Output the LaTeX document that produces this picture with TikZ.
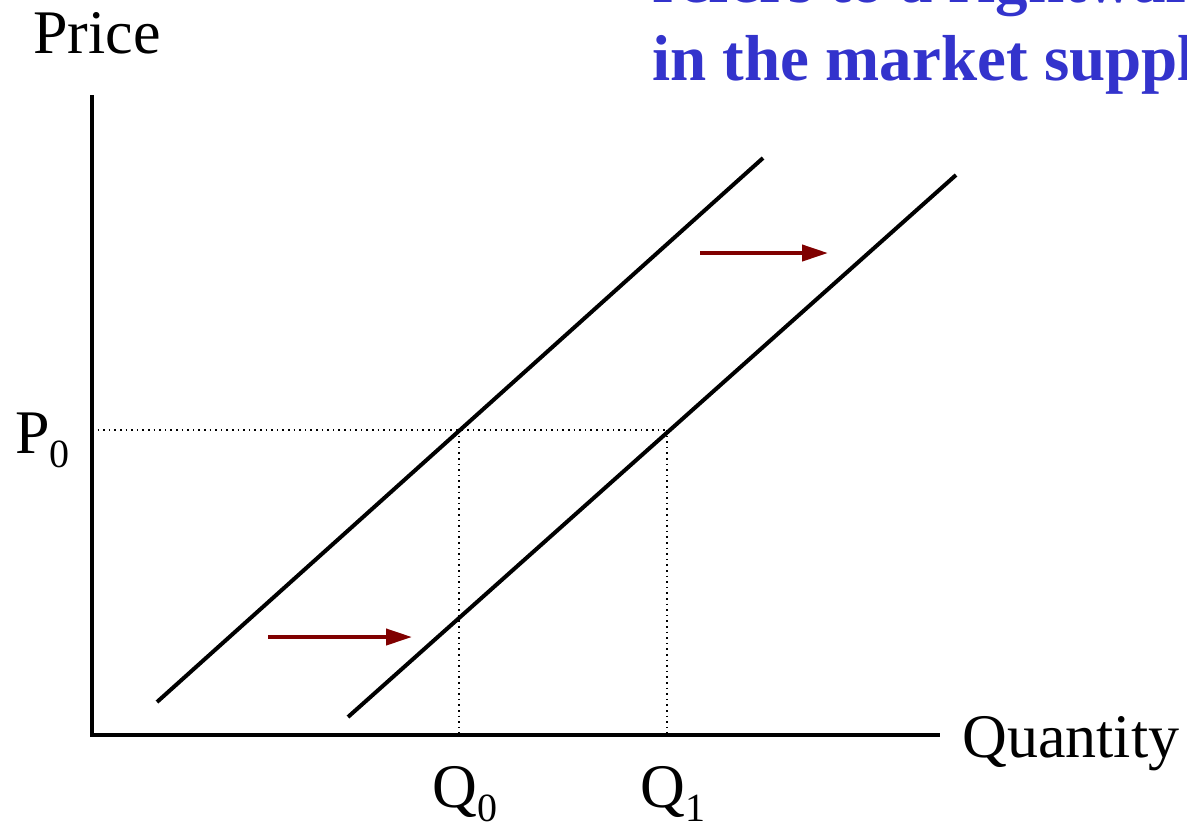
\documentclass[tikz,border=0pt]{standalone}
\usepackage{fontspec}
\setmainfont{Liberation Serif}
\usepackage{xcolor}
\usetikzlibrary{arrows.meta, positioning}

\definecolor{titleblue}{RGB}{51,51,204}
\definecolor{shiftred}{RGB}{128,0,0}
\newcommand{\lowsub}[1]{\raisebox{-7pt}{\fontsize{20}{22}\selectfont #1}}

\begin{document}
\begin{tikzpicture}[
    x=0.5pt, y=-0.5pt,
    axis/.style={line width=2pt},
    supply/.style={line width=2pt},
    guide/.style={line width=0.8pt, dotted},
    shiftarrow/.style={line width=2pt, color=shiftred, -{Triangle[length=13pt,width=8pt]}},
    lbl/.style={anchor=base west, inner sep=0, font=\fontsize{31}{36}\selectfont},
    headline/.style={anchor=base west, inner sep=0, align=left, text=titleblue, font=\fontsize{32.5}{39}\selectfont\bfseries}
]
\useasboundingbox (0,0) rectangle (1187,821);
\clip (0,0) rectangle (1187,821);

% axes
\coordinate (origin) at (92,735);
\coordinate (ytop) at (92,95);
\coordinate (xend) at (940,735);
\draw[axis] (ytop) -- (origin) -- (xend);

\node[lbl] (price) at (33,53) {Price};
\node[lbl] (quantity) at (962,757) {Quantity};

% supply curves
\coordinate (s0a) at (157,702);
\coordinate (s0b) at (763,158);
\coordinate (s1a) at (348,717);
\coordinate (s1b) at (956,175);
\draw[supply] (s0a) -- (s0b);
\draw[supply] (s1a) -- (s1b);

% equilibrium guides
\coordinate (p0y) at (92,430);
\coordinate (e0) at (459,430);
\coordinate (e1) at (667,430);
\coordinate (q0x) at (459,735);
\coordinate (q1x) at (667,735);
\draw[guide] (p0y) -- (e1);
\draw[guide] (e0) -- (q0x);
\draw[guide] (e1) -- (q1x);

\node[lbl] (p0) at (15,453) {P\lowsub{0}};
\node[lbl] (q0) at (432,807) {Q\lowsub{0}};
\node[lbl] (q1) at (640,807) {Q\lowsub{1}};

% shift arrows
\coordinate (lowa) at (268,637);
\coordinate (lowb) at (412,637);
\coordinate (upa) at (700,253);
\coordinate (upb) at (828,253);
\draw[shiftarrow] (lowa) -- (lowb);
\draw[shiftarrow] (upa) -- (upb);

\node[headline] (title) at (652,80) {refers to a rightward shift\\in the market supply curve};
\end{tikzpicture}
\end{document}
